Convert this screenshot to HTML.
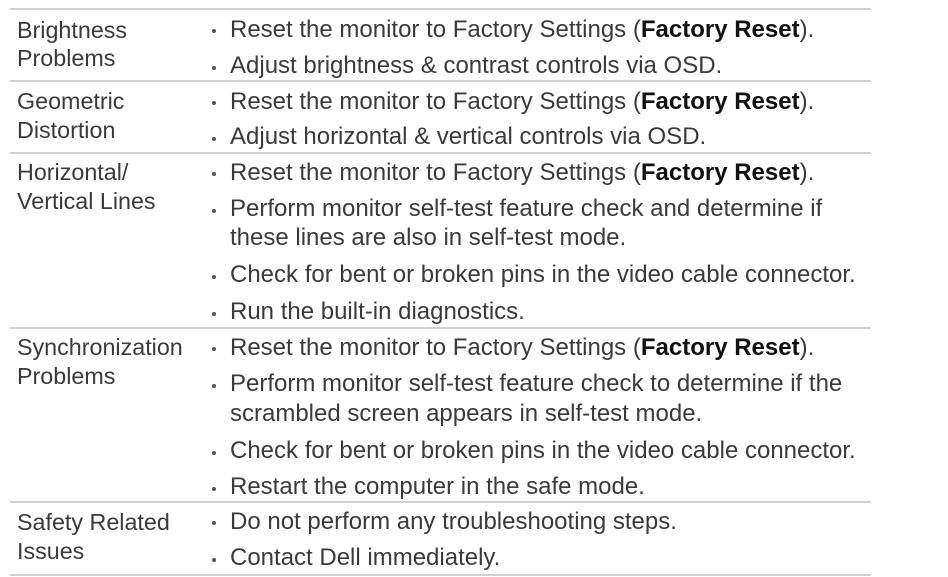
<!DOCTYPE html>
<html><head><meta charset="utf-8"><style>
body{margin:0;width:948px;height:577px;background:#fff;position:relative;overflow:hidden;font-family:"Liberation Sans",sans-serif;color:#3a3a3a;font-size:24px}
.l{position:absolute;left:10px;width:861px;height:2px;background:#d0d0d0}
.t{position:absolute;white-space:nowrap;line-height:26px;transform:translateY(-13px)}
.k{font-size:23.3px}
.b{position:absolute;left:212px;width:4px;height:4px;border-radius:2px;background:#555;margin-top:-2px}
b{color:#111}
</style></head><body>
<div class="l" style="top:8px"></div>
<div class="l" style="top:80px"></div>
<div class="l" style="top:152px"></div>
<div class="l" style="top:327px"></div>
<div class="l" style="top:501px"></div>
<div class="l" style="top:574px"></div>

<div class="t k" style="left:17px;top:30px">Brightness</div>
<div class="t k" style="left:17px;top:58px">Problems</div>
<div class="t k" style="left:17px;top:101px">Geometric</div>
<div class="t k" style="left:17px;top:130px">Distortion</div>
<div class="t k" style="left:17px;top:172px">Horizontal/</div>
<div class="t k" style="left:17px;top:201px">Vertical Lines</div>
<div class="t k" style="left:17px;top:347px">Synchronization</div>
<div class="t k" style="left:17px;top:376px">Problems</div>
<div class="t k" style="left:17px;top:522px">Safety Related</div>
<div class="t k" style="left:17px;top:551px">Issues</div>

<div class="b" style="top:31px"></div><div class="t" style="left:230px;top:30px">Reset the monitor to Factory Settings (<b>Factory Reset</b>).</div>
<div class="b" style="top:68px"></div><div class="t" style="left:230px;top:66px">Adjust brightness &amp; contrast controls via OSD.</div>
<div class="b" style="top:103px"></div><div class="t" style="left:230px;top:102px">Reset the monitor to Factory Settings (<b>Factory Reset</b>).</div>
<div class="b" style="top:139px"></div><div class="t" style="left:230px;top:137px">Adjust horizontal &amp; vertical controls via OSD.</div>
<div class="b" style="top:174px"></div><div class="t" style="left:230px;top:173px">Reset the monitor to Factory Settings (<b>Factory Reset</b>).</div>
<div class="b" style="top:211px"></div><div class="t" style="left:230px;top:209px">Perform monitor self-test feature check and determine if</div>
<div class="t" style="left:230px;top:238px">these lines are also in self-test mode.</div>
<div class="b" style="top:277px"></div><div class="t" style="left:230px;top:275px">Check for bent or broken pins in the video cable connector.</div>
<div class="b" style="top:314px"></div><div class="t" style="left:230px;top:312px">Run the built-in diagnostics.</div>
<div class="b" style="top:349px"></div><div class="t" style="left:230px;top:348px">Reset the monitor to Factory Settings (<b>Factory Reset</b>).</div>
<div class="b" style="top:386px"></div><div class="t" style="left:230px;top:384px">Perform monitor self-test feature check to determine if the</div>
<div class="t" style="left:230px;top:414px">scrambled screen appears in self-test mode.</div>
<div class="b" style="top:453px"></div><div class="t" style="left:230px;top:451px">Check for bent or broken pins in the video cable connector.</div>
<div class="b" style="top:489px"></div><div class="t" style="left:230px;top:487px">Restart the computer in the safe mode.</div>
<div class="b" style="top:523px"></div><div class="t" style="left:230px;top:522px">Do not perform any troubleshooting steps.</div>
<div class="b" style="top:560px"></div><div class="t" style="left:230px;top:558px">Contact Dell immediately.</div>
</body></html>
